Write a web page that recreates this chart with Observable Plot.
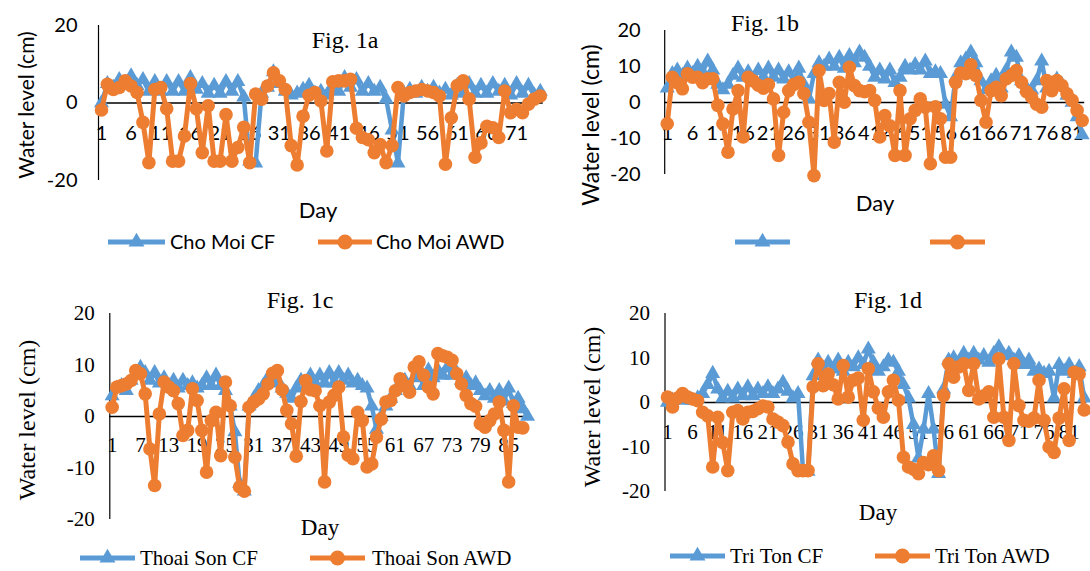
<!DOCTYPE html>
<html><head><meta charset="utf-8">
<script src="https://cdn.jsdelivr.net/npm/d3@7"></script>
<script src="https://cdn.jsdelivr.net/npm/@observablehq/plot@0.6"></script>
<style>
html,body{margin:0;padding:0;background:#fff;}
#wrap{position:relative;width:1090px;height:571px;overflow:hidden;background:#fff;}
#wrap svg{position:absolute;left:0;top:0;}
.lbl{position:absolute;white-space:nowrap;line-height:1;color:#000;}
</style></head>
<body><div id="wrap"></div>
<script>
// ---------- data ----------
const choMoiCF = [0,5,4,6,5,7,4.5,6,3,5.5, 3,5.5,3,5.5,3,6.5,3.5,5,2.5,4.5, 2.5,5.5,3,5.5,1.5,-15,-15.5,2.5,4,8,
 5,3,2,2.5,3.5,4.5,2.5,3,2,4.5, 3,6.5,4,6,3,5,3,4,1,-7, -15.5,2.5,3.5,2.5,4,3,4,2.5,3.5,2,
 4.5,2.5,5,2.5,4.5,2.5,5,3,4.5,2, 5,2.5,4.5,2,3];
const choMoiAWD = [-1.8,4.8,3.5,4.0,5.7,4.4,2.7,-5,-15.4,3.5, 4.0,-1.5,-15,-15,-8.5,5,-1.5,-12.8,-0.7,-15,
 -15,-3,-15,-11.5,-6.3,-15.4,2.3,1,4.4,7.8, 5.7,3.5,-11,-16,-3.4,2,2.7,0.5,-12.4,5.5,
 5.7,5.7,6.1,-6.5,-8.9,-9.5,-12.8,-10.7,-15.4,-11, 4,1.8,2.7,3.1,3.5,3.1,2.7,1.8,-15.8,-3.8,
 4.5,5.7,1.0,-14,-10.3,-6,-6.4,-8.9,3.1,-2.5, -1.6,-2.5,-0.3,1.0,1.8];

const panelBCF = [4,8,9,7.5,9.5,8,10,8.5,11.5,9, 5,3.5,5,7.5,9.5,7,8.5,6.5,9,7, 9.5,7,9,6.5,8.5,6,9.5,5,1,8,
 11,10,12,10,12.5,9.5,13,11,14,12.5, 10,7,9,6.5,9,5.5,7,10,9,10.5, 9,11.5,8,8.5,8,-0.5,-4,7,11,12,
 14,11,6,3.5,6,7.5,4,9,14,12.5, 6,4,3.5,6,11.5,4,5,6.5,5,2, 0,-4,-9];
const panelBAWD = [-5.9,7.0,5.5,3.8,8.0,7.0,7.0,5.5,6.6,6.6, -0.8,-5.9,-13.8,-1.8,3.3,-9.6,7.0,6.0,4.8,4.0,
 5.0,1.0,-14.7,-2.7,3.3,5.0,5.6,2.5,-5.5,-20.3, 8.9,0.6,2.5,-11,5.6,0.1,9.8,4.7,3.3,3.0,
 3.3,0.6,-9.6,-3.6,-6.5,-14.7,3.3,-14.7,-4.5,-2.2, 1.0,-1.3,-17,-1.2,-4.5,-15.2,-15.2,5.6,8.2,8,
 10.5,7.5,0.6,-5.5,3.3,4.2,1.9,6.6,7.5,8.9, 5.6,3,1.5,-0.5,-1.3,6.1,3.3,6.1,4.7,2.4, 0.6,-2.2,-5];

const thoaiSonCF = [4,5.5,6,5,7,8,9.5,8.5,7,8.5, 6.5,7.5,6,7,5.5,7,6,6.5,5.5,6, 7.5,6,8,6,5,2,-3,-13,-14.5,2,
 3.5,5,6,7.5,8,6.5,5.5,4.5,3.5,5.5, 7,6,8,6.5,8,6.5,8.5,6.5,8.5,7, 8,6.5,7,6,5.5,2,-2.5,0,2,3.5,
 5,6,7,6,7.5,8,6,9,7.5,9, 8,9.5,8,8.5,7,7.5,6,6.5,5,4, 5,3.5,5,3,5.5,2.5,3.5,1.5,0];
const thoaiSonAWD = [1.8,5.7,6.0,6.3,7.0,8.9,8.3,4.4,-6.3,-13.4, 0.5,6.7,5.7,5.0,2.5,-3.7,-2.7,5.4,3.1,-2.7,
 -10.8,-0.8,0.8,-7.6,6.7,2.1,-7.9,-13.7,-14.5,1.8, 2.8,3.4,4.4,6.3,8.4,8.9,5.2,1.2,-1.4,-7.7,
 2.9,7.0,5.2,5.0,2.1,-12.7,2.8,4.1,5.7,-4, -7.5,-8.2,0.8,-0.8,-9.8,-9.2,-4,-0.5,2.8,3.1,
 5.0,7.3,6.0,4.7,9.6,10.6,8.0,5.7,4.4,12.2, 11.8,11.5,10.9,8.3,6.3,4.1,2.5,2.0,-1.4,-2.1,
 -0.8,0.5,2.8,-2.7,-12.7,2.1,-2.1,-2.2];

const triTonCF = [0,0.5,1,0.5,1,0.5,1,2,4,6.5, 3,1,2.5,1,3,1.5,3.5,1.5,3,2, 3.5,2,3,4.5,2.5,1,2,-15.5,-15.5,6,
 9.5,7,9,7.5,9.5,7,9,8,10,8.5, 12,9,7,8,9.5,9,7,4,1,-5, -12.5,-6,2,-6,-16,3,9.5,10,9,11,
 9.5,11,9.5,10.5,9,11,12.5,10.5,11,9.5, 10.5,8.5,9.5,7,7.5,6.5,7,1,8.5,7, 8.5,6.5,8,1];
const triTonAWD = [1.2,-1.0,1.0,2.0,1.2,0.8,0.4,-2.2,-3,-14.5, -3.3,-9,-15.3,-2.2,-1.8,-3.7,-2.2,-2.0,-1.4,-0.8,
 -1.0,-3.7,-4.4,-5.2,-8.9,-13.8,-15.3,-15.3,-15.3,3.5, 8.7,3.8,6.4,4,0.8,8.3,1.2,5.0,5.5,-4.0,
 7.6,2.4,-1.3,-3.3,2.4,5.0,0.5,-12.3,-14.5,-15, -16,-13.5,-14,-12,-15.3,1.6,8.7,5.7,8,8.7,
 2.7,8.7,0.8,1.5,2.4,-3.3,9.8,-3.3,-8.5,8.7, -0.7,-4,-4.2,-3.5,5.0,-4,-10.0,-11.2,-3.5,3.1,
 -8.5,6.8,6.4,-1.7];

const ticksA = [1,6,11,16,21,26,31,36,41,46,51,56,61,66,71];
const ticksB = [1,6,11,16,21,26,31,36,41,46,51,56,61,66,71,76,81];
const ticksC = [1,7,13,19,25,31,37,43,49,55,61,67,73,79,85];
const ticksD = [1,6,11,16,21,26,31,36,41,46,51,56,61,66,71,76,81];
const yTicksA = [-20,0,20];
const yTicksB = [-20,-10,0,10,20];
const yTicksCD = [-20,-10,0,10,20];

// ---------- style ----------
const BLUE = "#5B9BD5", ORANGE = "#ED7D31";
const SANS = "Lato, 'Open Sans', sans-serif";
const SERIF = "'Liberation Serif', 'Times New Roman', serif";
const wrap = document.getElementById("wrap");

function panel(o) {
  const cf = o.cf.map((v, i) => ({day: i + 1, v}));
  const awd = o.awd.map((v, i) => ({day: i + 1, v}));
  const svg = Plot.plot({
    width: 1090, height: 571,
    marginLeft: o.left, marginRight: 1090 - o.right,
    marginTop: o.top, marginBottom: 571 - o.bottom,
    x: {domain: [0.5, o.n + 0.5], axis: null},
    y: {domain: [-20, 20], axis: null},
    style: {background: "transparent", fontFamily: o.font, fontSize: o.fs + "px", color: "#000", overflow: "visible"},
    marks: [
      Plot.ruleX([0.5], {y1: -20, y2: 20, stroke: "#000", strokeWidth: 1.2}),
      Plot.axisY(o.yTicks, {anchor: "left", tickSize: 0, tickPadding: o.pad, label: null, fill: "#000",
        fontSize: o.fs, tickFormat: d => String(d)}),
      Plot.ruleY([0], {stroke: "#000", strokeWidth: 1.6}),
      Plot.text(o.xTicks, {x: d => d, y: () => 0, dy: o.dy, text: d => String(d), fill: "#000", fontSize: o.fs}),
      Plot.line(cf, {x: "day", y: "v", stroke: BLUE, strokeWidth: 4.5, strokeLinejoin: "round"}),
      Plot.dot(cf, {x: "day", y: "v", symbol: "triangle", r: 5.6, fill: BLUE}),
      Plot.line(awd, {x: "day", y: "v", stroke: ORANGE, strokeWidth: 5, strokeLinejoin: "round"}),
      Plot.dot(awd, {x: "day", y: "v", r: 6.8, fill: ORANGE})
    ]
  });
  wrap.appendChild(svg);
}

panel({cf: choMoiCF, awd: choMoiAWD, n: 75, left: 98, right: 542.75, top: 25, bottom: 180,
  yTicks: yTicksA, xTicks: ticksA, font: SANS, fs: 20, pad: 21, dy: 31});
panel({cf: panelBCF, awd: panelBAWD, n: 83, left: 664.2, right: 1084.2, top: 30, bottom: 174,
  yTicks: yTicksB, xTicks: ticksB, font: SANS, fs: 20, pad: 24, dy: 31});
panel({cf: thoaiSonCF, awd: thoaiSonAWD, n: 89, left: 109.3, right: 529.4, top: 313, bottom: 519,
  yTicks: yTicksCD, xTicks: ticksC, font: SERIF, fs: 21, pad: 15, dy: 29});
panel({cf: triTonCF, awd: triTonAWD, n: 84, left: 664.5, right: 1086.2, top: 313, bottom: 491,
  yTicks: yTicksCD, xTicks: ticksD, font: SERIF, fs: 21, pad: 15, dy: 30});

// ---------- text labels ----------
const texts = [
  ["Fig. 1a", 345, 40, SERIF, 24, 0], ["Water level (cm)", 25, 105, SANS, 21, -90], ["Day", 318, 210, SANS, 22, 0],
  ["Fig. 1b", 765, 23, SERIF, 24, 0], ["Water level (cm)", 590, 125, SANS, 23, -90], ["Day", 875, 203, SANS, 22, 0],
  ["Fig. 1c", 300, 300, SERIF, 24, 0], ["Water level (cm)", 27, 420, SERIF, 24, -90], ["Day", 320, 527, SERIF, 23, 0],
  ["Fig. 1d", 888, 300, SERIF, 24, 0], ["Water level (cm)", 592, 407, SERIF, 24, -90], ["Day", 878, 512, SERIF, 23, 0]
];
for (const [t, x, y, f, s, r] of texts) {
  const d = document.createElement("div");
  d.className = "lbl";
  d.textContent = t;
  d.style.left = x + "px"; d.style.top = y + "px";
  d.style.fontFamily = f; d.style.fontSize = s + "px";
  d.style.transform = `translate(-50%,-50%) rotate(${r}deg)`;
  wrap.appendChild(d);
}

// ---------- legends ----------
const legends = [
  {y: 242, x1: 108, x2: 165, c: BLUE, m: "tri", t: "Cho Moi CF", tx: 170, f: SANS, s: 20},
  {y: 242, x1: 318, x2: 372, c: ORANGE, m: "dot", t: "Cho Moi AWD", tx: 376, f: SANS, s: 20},
  {y: 242, x1: 735, x2: 790, c: BLUE, m: "tri", t: "", tx: 0, f: SANS, s: 20},
  {y: 242, x1: 930, x2: 985, c: ORANGE, m: "dot", t: "", tx: 0, f: SANS, s: 20},
  {y: 558, x1: 80, x2: 135, c: BLUE, m: "tri", t: "Thoai Son CF", tx: 140, f: SERIF, s: 21},
  {y: 558, x1: 310, x2: 365, c: ORANGE, m: "dot", t: "Thoai Son AWD", tx: 372, f: SERIF, s: 21},
  {y: 556, x1: 670, x2: 725, c: BLUE, m: "tri", t: "Tri Ton CF", tx: 730, f: SERIF, s: 21},
  {y: 556, x1: 875, x2: 930, c: ORANGE, m: "dot", t: "Tri Ton AWD", tx: 935, f: SERIF, s: 21}
];
const lsvg = d3.create("svg").attr("width", 1090).attr("height", 571).style("position", "absolute").style("left", 0).style("top", 0);
for (const L of legends) {
  lsvg.append("line").attr("x1", L.x1).attr("x2", L.x2).attr("y1", L.y).attr("y2", L.y)
    .attr("stroke", L.c).attr("stroke-width", 5);
  const cx = (L.x1 + L.x2) / 2;
  if (L.m === "tri") {
    lsvg.append("path").attr("d", d3.symbol(d3.symbolTriangle, 110)()).attr("transform", `translate(${cx},${L.y})`).attr("fill", L.c);
  } else {
    lsvg.append("circle").attr("cx", cx).attr("cy", L.y).attr("r", 7.5).attr("fill", L.c);
  }
  if (L.t) {
    lsvg.append("text").attr("x", L.tx).attr("y", L.y).attr("dy", "0.35em")
      .attr("font-family", L.f).attr("font-size", L.s).attr("fill", "#000").text(L.t);
  }
}
wrap.appendChild(lsvg.node());
</script></body></html>
